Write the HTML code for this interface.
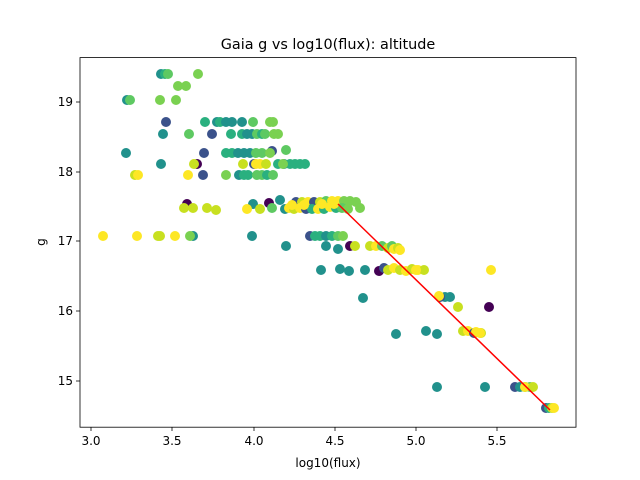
<!DOCTYPE html>
<html><head><meta charset="utf-8"><style>
body{margin:0;background:#fff;}
svg{display:block;font-family:"DejaVu Sans","Liberation Sans",sans-serif;}
</style></head><body>
<svg width="640" height="480" viewBox="0 0 640 480" xmlns="http://www.w3.org/2000/svg">
<rect width="640" height="480" fill="#fff"/>
<text x="328" y="49" font-size="14.4" text-anchor="middle" fill="#000">Gaia g vs log10(flux): altitude</text>
<g>
<circle cx="161" cy="74" r="5" fill="#21918c"/><circle cx="165" cy="74" r="5" fill="#2ab07f"/><circle cx="168" cy="74" r="5" fill="#5ec962"/><circle cx="198" cy="74" r="5" fill="#7ad151"/>
<circle cx="178" cy="86" r="5" fill="#7ad151"/><circle cx="186" cy="86" r="5" fill="#7ad151"/>
<circle cx="127" cy="100" r="5" fill="#21918c"/><circle cx="130" cy="100" r="5" fill="#5ec962"/><circle cx="160" cy="100" r="5" fill="#7ad151"/><circle cx="176" cy="100" r="5" fill="#7ad151"/>
<circle cx="166" cy="122" r="5" fill="#3b528b"/><circle cx="205" cy="122" r="5" fill="#2ab07f"/><circle cx="217" cy="122" r="5" fill="#21918c"/><circle cx="220" cy="122" r="5" fill="#2ab07f"/><circle cx="226" cy="122" r="5" fill="#21918c"/><circle cx="232" cy="122" r="5" fill="#21918c"/><circle cx="242" cy="122" r="5" fill="#21918c"/><circle cx="253" cy="122" r="5" fill="#5ec962"/><circle cx="270" cy="122" r="5" fill="#7ad151"/><circle cx="273" cy="122" r="5" fill="#7ad151"/>
<circle cx="163" cy="134" r="5" fill="#21918c"/><circle cx="189" cy="134" r="5" fill="#5ec962"/><circle cx="212" cy="134" r="5" fill="#3b528b"/><circle cx="231" cy="134" r="5" fill="#2ab07f"/><circle cx="242" cy="134" r="5" fill="#2ab07f"/><circle cx="247" cy="134" r="5" fill="#21918c"/><circle cx="252" cy="134" r="5" fill="#21918c"/><circle cx="257" cy="134" r="5" fill="#5ec962"/><circle cx="262" cy="134" r="5" fill="#2ab07f"/><circle cx="265" cy="134" r="5" fill="#5ec962"/><circle cx="274" cy="134" r="5" fill="#7ad151"/><circle cx="278" cy="134" r="5" fill="#7ad151"/>
<circle cx="126" cy="153" r="5" fill="#21918c"/><circle cx="204" cy="153" r="5" fill="#3b528b"/><circle cx="226" cy="153" r="5" fill="#2ab07f"/><circle cx="232" cy="153" r="5" fill="#2ab07f"/><circle cx="238" cy="153" r="5" fill="#21918c"/><circle cx="244" cy="153" r="5" fill="#21918c"/><circle cx="250" cy="153" r="5" fill="#21918c"/><circle cx="256" cy="153" r="5" fill="#5ec962"/><circle cx="262" cy="153" r="5" fill="#5ec962"/><circle cx="272" cy="151" r="5" fill="#3b528b"/><circle cx="270" cy="153" r="5" fill="#7ad151"/><circle cx="286" cy="150" r="5" fill="#5ec962"/>
<circle cx="161" cy="164" r="5" fill="#21918c"/><circle cx="197" cy="164" r="5" fill="#440154"/><circle cx="194" cy="164" r="5" fill="#c8e020"/><circle cx="243" cy="164" r="5" fill="#c8e020"/><circle cx="254" cy="164" r="5" fill="#3b528b"/><circle cx="256" cy="164" r="5" fill="#fde725"/><circle cx="260" cy="164" r="5" fill="#fde725"/><circle cx="266" cy="164" r="5" fill="#c8e020"/><circle cx="278" cy="164" r="5" fill="#2ab07f"/><circle cx="284" cy="164" r="5" fill="#21918c"/><circle cx="290" cy="164" r="5" fill="#2ab07f"/><circle cx="295" cy="164" r="5" fill="#2ab07f"/><circle cx="300" cy="164" r="5" fill="#2ab07f"/><circle cx="305" cy="164" r="5" fill="#2ab07f"/><circle cx="283" cy="164" r="5" fill="#7ad151"/>
<circle cx="135" cy="175" r="5" fill="#c8e020"/><circle cx="138" cy="175" r="5" fill="#fde725"/><circle cx="188" cy="175" r="5" fill="#fde725"/><circle cx="203" cy="175" r="5" fill="#3b528b"/><circle cx="226" cy="175" r="5" fill="#7ad151"/><circle cx="239" cy="175" r="5" fill="#21918c"/><circle cx="244" cy="175" r="5" fill="#2ab07f"/><circle cx="248" cy="175" r="5" fill="#2ab07f"/><circle cx="257" cy="175" r="5" fill="#5ec962"/><circle cx="262" cy="175" r="5" fill="#5ec962"/><circle cx="267" cy="175" r="5" fill="#2ab07f"/><circle cx="273" cy="175" r="5" fill="#5ec962"/>
<circle cx="187" cy="204" r="5" fill="#440154"/><circle cx="269" cy="203" r="5" fill="#440154"/><circle cx="280" cy="200" r="5" fill="#21918c"/><circle cx="253" cy="204" r="5" fill="#21918c"/>
<circle cx="184" cy="208" r="5" fill="#c8e020"/><circle cx="193" cy="208" r="5" fill="#c8e020"/><circle cx="207" cy="208" r="5" fill="#c8e020"/><circle cx="216" cy="210" r="5" fill="#c8e020"/><circle cx="247" cy="209" r="5" fill="#fde725"/><circle cx="260" cy="209" r="5" fill="#c8e020"/><circle cx="272" cy="208" r="5" fill="#5ec962"/><circle cx="285" cy="209" r="5" fill="#21918c"/><circle cx="289" cy="208" r="5" fill="#fde725"/>
<circle cx="296" cy="202" r="5" fill="#3b528b"/><circle cx="302" cy="202" r="5" fill="#c8e020"/><circle cx="308" cy="202" r="5" fill="#fde725"/><circle cx="314" cy="202" r="5" fill="#3b528b"/><circle cx="320" cy="202" r="5" fill="#c8e020"/><circle cx="326" cy="201" r="5" fill="#5ec962"/><circle cx="332" cy="201" r="5" fill="#fde725"/><circle cx="338" cy="201" r="5" fill="#fde725"/><circle cx="344" cy="201" r="5" fill="#7ad151"/><circle cx="350" cy="201" r="5" fill="#7ad151"/><circle cx="356" cy="202" r="5" fill="#7ad151"/>
<circle cx="294" cy="209" r="5" fill="#c8e020"/><circle cx="300" cy="208" r="5" fill="#fde725"/><circle cx="306" cy="209" r="5" fill="#3b528b"/><circle cx="312" cy="209" r="5" fill="#2ab07f"/><circle cx="318" cy="209" r="5" fill="#fde725"/><circle cx="324" cy="209" r="5" fill="#2ab07f"/><circle cx="330" cy="207" r="5" fill="#fde725"/><circle cx="336" cy="208" r="5" fill="#2ab07f"/><circle cx="342" cy="208" r="5" fill="#5ec962"/><circle cx="348" cy="209" r="5" fill="#7ad151"/><circle cx="360" cy="208" r="5" fill="#7ad151"/>
<circle cx="292" cy="205" r="5" fill="#fde725"/><circle cx="304" cy="205" r="5" fill="#fde725"/><circle cx="322" cy="204" r="5" fill="#fde725"/><circle cx="334" cy="204" r="5" fill="#fde725"/>
<circle cx="103" cy="236" r="5" fill="#fde725"/><circle cx="137" cy="236" r="5" fill="#fde725"/><circle cx="158" cy="236" r="5" fill="#c8e020"/><circle cx="160" cy="236" r="5" fill="#c8e020"/><circle cx="175" cy="236" r="5" fill="#fde725"/><circle cx="193" cy="236" r="5" fill="#21918c"/><circle cx="190" cy="236" r="5" fill="#7ad151"/><circle cx="252" cy="236" r="5" fill="#21918c"/>
<circle cx="310" cy="236" r="5" fill="#3b528b"/><circle cx="315" cy="236" r="5" fill="#2ab07f"/><circle cx="320" cy="236" r="5" fill="#2ab07f"/><circle cx="326" cy="236" r="5" fill="#21918c"/><circle cx="332" cy="236" r="5" fill="#2ab07f"/><circle cx="338" cy="236" r="5" fill="#5ec962"/><circle cx="343" cy="236" r="5" fill="#7ad151"/>
<circle cx="286" cy="246" r="5" fill="#21918c"/><circle cx="326" cy="246" r="5" fill="#21918c"/><circle cx="338" cy="249" r="5" fill="#21918c"/><circle cx="350" cy="246" r="5" fill="#440154"/><circle cx="355" cy="246" r="5" fill="#c8e020"/>
<circle cx="370" cy="246" r="5" fill="#c8e020"/><circle cx="376" cy="246" r="5" fill="#fde725"/><circle cx="382" cy="246" r="5" fill="#5ec962"/><circle cx="388" cy="248" r="5" fill="#c8e020"/><circle cx="392" cy="246" r="5" fill="#5ec962"/><circle cx="394" cy="249" r="5" fill="#fde725"/><circle cx="398" cy="248" r="5" fill="#c8e020"/><circle cx="400" cy="250" r="5" fill="#fde725"/>
<circle cx="321" cy="270" r="5" fill="#21918c"/><circle cx="340" cy="269" r="5" fill="#21918c"/><circle cx="349" cy="271" r="5" fill="#21918c"/><circle cx="365" cy="270" r="5" fill="#21918c"/>
<circle cx="379" cy="271" r="5" fill="#440154"/><circle cx="384" cy="268" r="5" fill="#3b528b"/><circle cx="388" cy="270" r="5" fill="#c8e020"/><circle cx="394" cy="268" r="5" fill="#fde725"/><circle cx="400" cy="270" r="5" fill="#c8e020"/><circle cx="406" cy="271" r="5" fill="#fde725"/><circle cx="412" cy="269" r="5" fill="#c8e020"/><circle cx="418" cy="270" r="5" fill="#fde725"/><circle cx="424" cy="270" r="5" fill="#c8e020"/><circle cx="416" cy="270" r="5" fill="#fde725"/>
<circle cx="491" cy="270" r="5" fill="#fde725"/>
<circle cx="363" cy="298" r="5" fill="#21918c"/>
<circle cx="450" cy="297" r="5" fill="#21918c"/><circle cx="445" cy="297" r="5" fill="#21918c"/><circle cx="440" cy="297" r="5" fill="#3b528b"/><circle cx="439" cy="296" r="5" fill="#fde725"/>
<circle cx="458" cy="307" r="5" fill="#c8e020"/><circle cx="489" cy="307" r="5" fill="#440154"/>
<circle cx="396" cy="334" r="5" fill="#21918c"/><circle cx="426" cy="331" r="5" fill="#21918c"/><circle cx="437" cy="334" r="5" fill="#21918c"/>
<circle cx="463" cy="331" r="5" fill="#c8e020"/><circle cx="468" cy="331" r="5" fill="#fde725"/><circle cx="474" cy="333" r="5" fill="#3b528b"/><circle cx="476" cy="332" r="5" fill="#fde725"/><circle cx="481" cy="333" r="5" fill="#c8e020"/><circle cx="480" cy="333" r="5" fill="#fde725"/>
<circle cx="437" cy="387" r="5" fill="#21918c"/><circle cx="485" cy="387" r="5" fill="#21918c"/>
<circle cx="515" cy="387" r="5" fill="#3b528b"/><circle cx="520" cy="387" r="5" fill="#21918c"/><circle cx="525" cy="387" r="5" fill="#2ab07f"/><circle cx="530" cy="387" r="5" fill="#5ec962"/><circle cx="525" cy="387" r="5" fill="#fde725"/><circle cx="533" cy="387" r="5" fill="#c8e020"/>
<circle cx="546" cy="408" r="5" fill="#3b528b"/><circle cx="549" cy="408" r="5" fill="#2ab07f"/><circle cx="552" cy="408" r="5" fill="#c8e020"/><circle cx="554" cy="408" r="5" fill="#fde725"/>
</g>
<line x1="338" y1="204" x2="550" y2="410" stroke="#ff0000" stroke-width="1.5"/>
<rect x="80" y="57.6" width="496" height="369.6" fill="none" stroke="#000" stroke-width="0.8"/>
<g stroke="#000" stroke-width="0.8">
<line x1="91" y1="427" x2="91" y2="431"/><line x1="172" y1="427" x2="172" y2="431"/><line x1="254" y1="427" x2="254" y2="431"/><line x1="335" y1="427" x2="335" y2="431"/><line x1="416" y1="427" x2="416" y2="431"/><line x1="497" y1="427" x2="497" y2="431"/>
<line x1="76" y1="102" x2="80" y2="102"/><line x1="76" y1="172" x2="80" y2="172"/><line x1="76" y1="241" x2="80" y2="241"/><line x1="76" y1="311" x2="80" y2="311"/><line x1="76" y1="381" x2="80" y2="381"/>
</g>
<g font-size="12" fill="#000" text-anchor="middle">
<text x="91" y="445">3.0</text><text x="172" y="445">3.5</text><text x="254" y="445">4.0</text><text x="335" y="445">4.5</text><text x="416" y="445">5.0</text><text x="497" y="445">5.5</text>
<text x="328" y="467">log10(flux)</text>
</g>
<g font-size="12" fill="#000" text-anchor="end">
<text x="73" y="106">19</text><text x="73" y="176">18</text><text x="73" y="245">17</text><text x="73" y="315">16</text><text x="73" y="385">15</text>
</g>
<text x="45" y="242" font-size="12" text-anchor="middle" transform="rotate(-90 45 242)">g</text>
</svg>
</body></html>
